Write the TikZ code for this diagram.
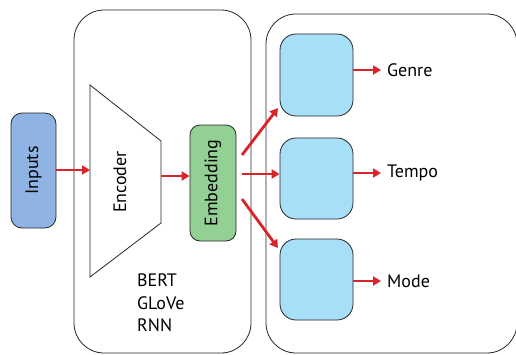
\documentclass[tikz,border=0pt]{standalone}
\usepackage{fontspec}
\setmainfont{PT Sans}
\usetikzlibrary{arrows.meta}
\definecolor{inblue}{RGB}{143,180,227}
\definecolor{embgreen}{RGB}{147,208,147}
\definecolor{headblue}{RGB}{167,222,248}
\definecolor{arrowred}{RGB}{218,35,42}
\tikzset{
  frame/.style={draw=black!85, line width=0.8pt, rounded corners=30pt},
  block/.style={draw=black!85, line width=0.8pt, inner sep=0pt},
  flow/.style={draw=arrowred, line width=2.8pt, -{Triangle[length=8pt,width=9pt]}},
  lbl/.style={font=\fontsize{18}{20}\selectfont, inner sep=0pt},
}
\begin{document}
\begin{tikzpicture}[x=1pt,y=-1pt]
\useasboundingbox (0,0) rectangle (516,354);
\begin{scope}
\clip (0,0) rectangle (516,354);
% containers
\draw[frame] (74,10) rectangle (251,353);
\draw[frame] (266,14) rectangle (517,353);
\end{scope}

% input block
\node[block, fill=inblue, rounded corners=11pt, minimum width=45pt, minimum height=115pt]
  (inp) at (33.5,170.5) {};
\node[lbl, rotate=90] at (inp.center) {Inputs};

% encoder trapezoid
\draw[draw=black!85, line width=0.8pt] (90,85) -- (161,141) -- (161,223) -- (90,277) -- cycle;
\coordinate (encw) at (90,170);
\coordinate (ence) at (161,176);
\node[lbl, rotate=90] (enc) at (120,182) {Encoder};

% embedding block
\node[block, fill=embgreen, rounded corners=10pt, minimum width=46pt, minimum height=116pt]
  (emb) at (213,183) {};
\node[lbl, rotate=90] at (emb.center) {Embedding};

% model names
\node[lbl, anchor=west] (bert) at (137,280) {BERT};
\node[lbl, anchor=west] (glove) at (137,303) {GLoVe};
\node[lbl, anchor=west] (rnn) at (137,325) {RNN};

% task heads
\node[block, fill=headblue, rounded corners=16pt, minimum width=73pt, minimum height=82pt]
  (h1) at (316.5,75) {};
\node[block, fill=headblue, rounded corners=16pt, minimum width=73pt, minimum height=81pt]
  (h2) at (316.5,178.5) {};
\node[block, fill=headblue, rounded corners=16pt, minimum width=73pt, minimum height=81pt]
  (h3) at (316.5,279.5) {};

% task labels
\node[lbl, anchor=west] (genre) at (387,70) {Genre};
\node[lbl, anchor=west] (tempo) at (387,173) {Tempo};
\node[lbl, anchor=west] (mode) at (387,281) {Mode};

% connectors
\draw[flow] (inp.east |- encw) -- (encw);
\draw[flow] (ence) -- (emb.west |- ence);
\coordinate (e1) at (242,155);
\coordinate (e2) at (242,174);
\coordinate (e3) at (242,199);
\coordinate (t1) at (278,108);
\coordinate (t3) at (278,248);
\draw[flow] (e1) -- (t1);
\draw[flow] (e2) -- (h2.west |- e2);
\draw[flow] (e3) -- (t3);
\draw[flow, shorten >=6pt] (h1.east |- genre) -- (genre.west);
\draw[flow, shorten >=6pt] (h2.east |- tempo) -- (tempo.west);
\draw[flow, shorten >=6pt] (h3.east |- mode) -- (mode.west);
\end{tikzpicture}
\end{document}
